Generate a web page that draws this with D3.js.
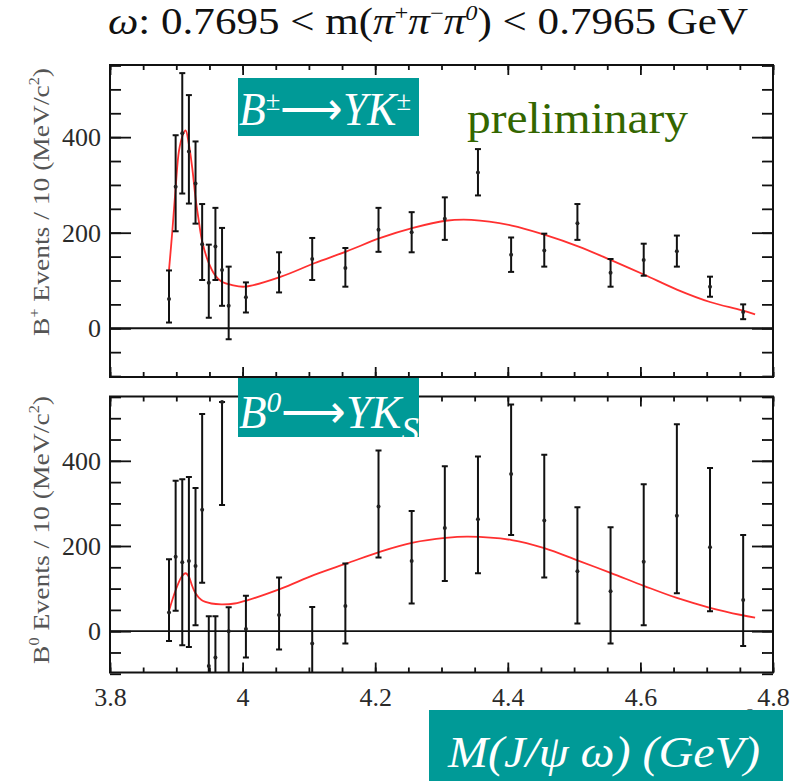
<!DOCTYPE html>
<html>
<head>
<meta charset="utf-8">
<script src="https://cdn.jsdelivr.net/npm/d3@7"></script>
<style>
  body { margin: 0; background: #fff; }
  svg { display: block; }
  .tick text { font-family: "Liberation Serif"; }
</style>
</head>
<body>
<div id="chart"></div>
<script>
// bin centres (GeV): 10 MeV bins near threshold, then 50 MeV bins
const massBins = [3.889, 3.899, 3.909, 3.919, 3.929, 3.939, 3.949, 3.959, 3.969, 3.979,
  4.005, 4.055, 4.105, 4.155, 4.205, 4.255, 4.305, 4.355, 4.405, 4.455,
  4.505, 4.555, 4.605, 4.655, 4.705, 4.755];

// B+ -> Y K+ : yield, lower and upper end of error bar
const chargedYield = [61, 296, 408, 370, 303, 176, 95, 171, 122, 47,
  65, 117, 145, 126, 206, 201, 229, 326, 154, 163, 220, 116, 143, 161, 87, 34];
const chargedLow = [12, 203, 282, 261, 219, 101, 22, 101, 47, -23,
  33, 75, 101, 87, 160, 159, 185, 278, 118, 129, 185, 87, 110, 129, 66, 19];
const chargedHigh = [121, 404, 534, 488, 391, 260, 175, 252, 210, 129,
  96, 159, 189, 168, 252, 243, 274, 375, 190, 198, 260, 145, 177, 194, 108, 50];

// B0 -> Y Ks
const neutralYield = [44, 175, 162, 165, 153, 285, -82, -62, 538, 0,
  5, 38, -29, 59, 293, 165, 242, 263, 369, 260, 141, 94, 163, 271, 197, 73];
const neutralLow = [-23, 48, -33, -37, 14, 114, -200, -180, 296, -160,
  -62, -43, -140, -29, 173, 65, 118, 136, 226, 126, 18, -29, 14, 89, 47, -35];
const neutralHigh = [169, 353, 357, 362, 336, 510, 35, 35, 538, 56,
  83, 126, 57, 159, 424, 282, 387, 410, 532, 414, 291, 244, 345, 486, 383, 226];

// fitted curves
const chargedFitX = [3.889, 3.894, 3.899, 3.904, 3.910, 3.914, 3.919, 3.924, 3.929, 3.934, 3.939,
  3.948, 3.958, 3.968, 3.983, 4.003, 4.058, 4.108, 4.157, 4.208, 4.257, 4.306, 4.345,
  4.406, 4.455, 4.507, 4.555, 4.606, 4.655, 4.705, 4.752, 4.773];
const chargedFitY = [122, 203, 294, 371, 405, 414, 385, 336, 273, 224, 182,
  140, 112, 98, 91, 87, 108, 136, 161, 189, 210, 225, 227,
  215, 196, 171, 143, 112, 81, 55, 38, 29];
const neutralFitX = [3.889, 3.899, 3.908, 3.914, 3.919, 3.924, 3.929, 3.938, 3.953, 3.968,
  3.988, 4.008, 4.058, 4.108, 4.157, 4.208, 4.257, 4.306, 4.340, 4.406, 4.455,
  4.507, 4.555, 4.606, 4.655, 4.705, 4.752, 4.773];
const neutralFitY = [48, 96, 128, 136, 128, 106, 89, 73, 65, 63,
  65, 73, 100, 132, 159, 187, 208, 219, 222, 214, 195,
  165, 137, 106, 78, 55, 38, 32];

const xMajorTicks = [3.8, 4.0, 4.2, 4.4, 4.6, 4.8];
const xTickLabels = ["3.8", "4", "4.2", "4.4", "4.6", "4.8"];
const yMajorTicks = [0, 200, 400];

const W = 802, H = 781;
const FONT = "Liberation Serif";

const svg = d3.select("#chart").append("svg")
    .attr("width", W)
    .attr("height", H);

const x = d3.scaleLinear().domain([3.8, 4.8]).range([110, 773]);
const xMinor = d3.range(3.8, 4.8001, 0.05).map(v => +v.toFixed(2));
const yMinor = d3.range(-100, 551, 50);

let clipId = 0;

function drawPanel(p) {
    const y = d3.scaleLinear().domain(p.domain).range([p.bottom, p.top]);
    const g = svg.append("g");
    const cid = "clip" + (clipId++);

    svg.append("clipPath").attr("id", cid)
      .append("rect")
        .attr("x", x.range()[0]).attr("y", p.top)
        .attr("width", x.range()[1] - x.range()[0])
        .attr("height", p.bottom - p.top);

    // ticks, all pointing into the frame
    const axes = [
        [d3.axisLeft(y).tickValues(yMajorTicks).tickSize(-21).tickPadding(9), x.range()[0], 0],
        [d3.axisLeft(y).tickValues(yMinor).tickSize(-11).tickFormat(""), x.range()[0], 0],
        [d3.axisRight(y).tickValues(yMajorTicks).tickSize(-21).tickFormat(""), x.range()[1], 0],
        [d3.axisRight(y).tickValues(yMinor).tickSize(-11).tickFormat(""), x.range()[1], 0],
        [d3.axisTop(x).tickValues(xMajorTicks).tickSize(-10).tickFormat(""), 0, p.top],
        [d3.axisTop(x).tickValues(xMinor).tickSize(-5).tickFormat(""), 0, p.top],
        [d3.axisBottom(x).tickValues(xMajorTicks).tickSize(-10)
            .tickFormat((d, i) => p.xLabels ? xTickLabels[i] : "").tickPadding(15), 0, p.bottom],
        [d3.axisBottom(x).tickValues(xMinor).tickSize(-5).tickFormat(""), 0, p.bottom]
    ];
    axes.forEach(([ax, tx, ty]) => {
        const a = g.append("g")
            .attr("transform", "translate(" + tx + "," + ty + ")")
            .call(ax)
            .attr("font-family", FONT);
        a.select(".domain").remove();
        a.selectAll("line").attr("stroke", "#111").attr("stroke-width", 1.8);
        a.selectAll("text")
            .attr("font-family", FONT)
            .style("font-family", FONT)
            .attr("font-size", 26)
            .attr("fill", "#2a2a2a");
    });

    // frame
    g.append("rect")
        .attr("x", x.range()[0]).attr("y", p.top)
        .attr("width", x.range()[1] - x.range()[0])
        .attr("height", p.bottom - p.top)
        .attr("fill", "none")
        .attr("stroke", "#111")
        .attr("stroke-width", 2);

    // zero line
    g.append("line")
        .attr("x1", x.range()[0]).attr("x2", x.range()[1])
        .attr("y1", y(0)).attr("y2", y(0))
        .attr("stroke", "#111")
        .attr("stroke-width", 1.8);

    // y title
    const t = g.append("text")
        .attr("transform", "translate(" + 49 + "," + p.labelY + ") rotate(-90)")
        .attr("text-anchor", "middle")
        .attr("font-family", FONT)
        .attr("font-size", 24)
        .attr("textLength", 268)
        .attr("lengthAdjust", "spacingAndGlyphs")
        .attr("fill", "#555");
    t.append("tspan").text("B");
    t.append("tspan").attr("font-size", 14).attr("dy", -10).text(p.sup);
    t.append("tspan").attr("dy", 10).text(" Events / 10 (MeV/c");
    t.append("tspan").attr("font-size", 14).attr("dy", -10).text("2");
    t.append("tspan").attr("dy", 10).text(")");

    const inner = g.append("g").attr("clip-path", "url(#" + cid + ")");

    // fit curve
    const line = d3.line()
        .x(d => x(d[0]))
        .y(d => y(d[1]))
        .curve(d3.curveCatmullRom.alpha(0.5));

    inner.append("path")
        .datum(p.fitX.map((v, i) => [v, p.fitY[i]]))
        .attr("fill", "none")
        .attr("stroke", "#ff1a1a")
        .attr("stroke-width", 1.8)
        .attr("stroke-opacity", 0.9)
        .attr("d", line);

    // error bars
    const pts = massBins.map((m, i) => ({ m, v: p.values[i], lo: p.low[i], hi: p.high[i] }));
    const bars = inner.selectAll(".bar")
        .data(pts)
      .enter().append("g")
        .attr("class", "bar");

    bars.append("line")
        .attr("x1", d => x(d.m)).attr("x2", d => x(d.m))
        .attr("y1", d => y(d.lo)).attr("y2", d => y(d.hi))
        .attr("stroke", "#111").attr("stroke-width", 2);

    bars.append("line")
        .attr("x1", d => x(d.m) - 3).attr("x2", d => x(d.m) + 3)
        .attr("y1", d => y(d.lo)).attr("y2", d => y(d.lo))
        .attr("stroke", "#111").attr("stroke-width", 2);

    bars.append("line")
        .attr("x1", d => x(d.m) - 3).attr("x2", d => x(d.m) + 3)
        .attr("y1", d => y(d.hi)).attr("y2", d => y(d.hi))
        .attr("stroke", "#111").attr("stroke-width", 2);

    bars.append("circle")
        .attr("cx", d => x(d.m)).attr("cy", d => y(d.v))
        .attr("r", 2)
        .attr("fill", "#222");
}

drawPanel({
    top: 65, bottom: 377, domain: [-102, 551],
    values: chargedYield, low: chargedLow, high: chargedHigh,
    fitX: chargedFitX, fitY: chargedFitY,
    sup: "+", labelY: 202, xLabels: false
});

drawPanel({
    top: 396.5, bottom: 672.5, domain: [-97, 551],
    values: neutralYield, low: neutralLow, high: neutralHigh,
    fitX: neutralFitX, fitY: neutralFitY,
    sup: "0", labelY: 530, xLabels: true
});

// title
const title = svg.append("text")
    .attr("x", 108)
    .attr("y", 34)
    .attr("font-family", FONT)
    .attr("font-size", 37)
    .attr("textLength", 640)
    .attr("lengthAdjust", "spacingAndGlyphs")
    .attr("fill", "#111");
title.append("tspan").attr("font-style", "italic").text("ω");
title.append("tspan").text(": 0.7695 < m(");
title.append("tspan").attr("font-style", "italic").text("π");
title.append("tspan").attr("font-size", 21).attr("dy", -14).text("+");
title.append("tspan").attr("font-style", "italic").attr("dy", 14).text("π");
title.append("tspan").attr("font-size", 21).attr("dy", -14).text("−");
title.append("tspan").attr("font-style", "italic").attr("dy", 14).text("π");
title.append("tspan").attr("font-size", 21).attr("font-style", "italic").attr("dy", -14).text("0");
title.append("tspan").attr("dy", 14).text(") < 0.7965 GeV");

// "preliminary"
svg.append("text")
    .attr("x", 467)
    .attr("y", 133)
    .attr("font-family", FONT)
    .attr("font-size", 45)
    .attr("textLength", 221)
    .attr("lengthAdjust", "spacingAndGlyphs")
    .attr("fill", "#336600")
    .text("preliminary");

// hidden x-axis title peeks out above the box
svg.append("text")
    .attr("x", 746)
    .attr("y", 722)
    .attr("font-family", FONT)
    .attr("font-size", 18)
    .attr("fill", "#555")
    .text("2");

// teal tags
const teal = "#009a97";

function tag(bx, by, bw, bh, tx, ty, size, len, build) {
    const cid = "tag" + (clipId++);
    svg.append("clipPath").attr("id", cid)
      .append("rect").attr("x", bx).attr("y", by).attr("width", bw).attr("height", bh);
    svg.append("rect")
        .attr("x", bx).attr("y", by).attr("width", bw).attr("height", bh)
        .attr("fill", teal);
    const t = svg.append("text")
        .attr("clip-path", "url(#" + cid + ")")
        .attr("x", tx).attr("y", ty)
        .attr("font-family", FONT)
        .attr("font-size", size)
        .attr("textLength", len)
        .attr("lengthAdjust", "spacingAndGlyphs")
        .attr("fill", "#fff");
    build(t);
}

tag(238, 78, 181, 58, 239, 125, 46, 172, t => {
    t.append("tspan").attr("font-style", "italic").text("B");
    t.append("tspan").attr("font-size", 28).attr("dy", -15).text("±");
    t.append("tspan").attr("dy", 15).text("⟶");
    t.append("tspan").attr("font-style", "italic").text("YK");
    t.append("tspan").attr("font-size", 28).attr("dy", -15).text("±");
});

tag(238, 378, 181, 59, 239, 428, 46, 180, t => {
    t.append("tspan").attr("font-style", "italic").text("B");
    t.append("tspan").attr("font-style", "italic").attr("font-size", 30).attr("dy", -16).text("0");
    t.append("tspan").attr("dy", 16).text("⟶");
    t.append("tspan").attr("font-style", "italic").text("YK");
    t.append("tspan").attr("font-style", "italic").attr("font-size", 36).attr("dy", 14).text("S");
});

tag(429, 710, 354, 71, 448, 767, 44, 312, t => {
    t.append("tspan").attr("font-style", "italic").text("M(J/ψ ω) (GeV)");
});
</script>
</body>
</html>
